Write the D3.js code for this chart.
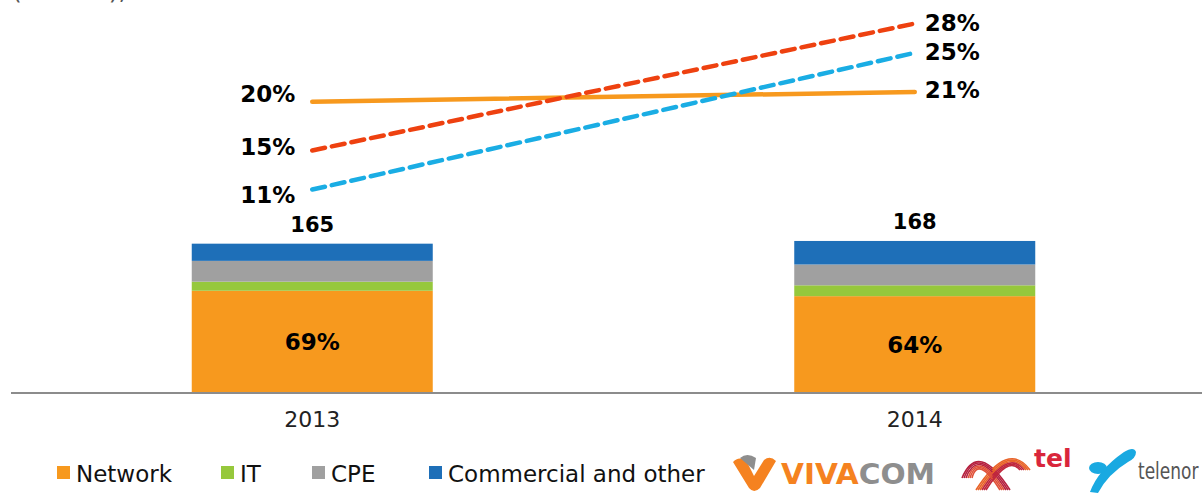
<!DOCTYPE html>
<html>
<head>
<meta charset="utf-8">
<style>
    body { margin: 0; background: #fff; }
    svg text { font-family: Verdana, "DejaVu Sans", sans-serif; }
    .axis path, .axis line { fill: none; stroke: #8c8c8c; stroke-width: 2px; }
</style>
</head>
<body>
<div id="containerChart"></div>
<script src="https://cdn.jsdelivr.net/npm/d3@7"></script>
<script>
    // data
    var years = ["2013", "2014"];
    var network = [113, 107];
    var it = [10, 12];
    var cpe = [23, 23];
    var commercial = [19, 26];
    var totals = [165, 168];
    var networkShare = ["69%", "64%"];

    var vivacomShare = [20, 21];
    var mtelShare = [15, 28];
    var telenorShare = [11, 25];

    var legendNames = ["Network", "IT", "CPE", "Commercial and other"];
    var colors = ["#F7991E", "#96C83C", "#A0A0A0", "#1E6FB8"];

    var svgWidth = 1202;
    var svgHeight = 493;

    var svg = d3.select("#containerChart")
        .append("svg")
        .attr("width", svgWidth)
        .attr("height", svgHeight);

    // title, mostly above the top edge (only the bottom of it shows)
    svg.append("text")
        .attr("x", 12).attr("y", -1)
        .style("font-size", "25px").style("fill", "#555")
        .text("(BGN m), ");

    // scales
    var xScale = d3.scaleBand()
        .domain(years)
        .range([11, 1216])
        .paddingInner(0.6)
        .paddingOuter(0.3);

    var yBar = d3.scaleLinear()
        .domain([0, 200])
        .range([393, 212]);

    var yLine = d3.scaleLinear()
        .domain([0, 30])
        .range([297, 4]);

    // stacked bars
    var rows = years.map(function (y, i) {
        return { year: y, network: network[i], it: it[i], cpe: cpe[i], commercial: commercial[i] };
    });
    var keys = ["network", "it", "cpe", "commercial"];
    var stacked = d3.stack().keys(keys)(rows);

    svg.selectAll("g.layer")
        .data(stacked)
        .enter().append("g")
        .attr("class", "layer")
        .attr("fill", function (d, i) { return colors[i]; })
        .selectAll("rect")
        .data(function (d) { return d; })
        .enter().append("rect")
        .attr("x", function (d) { return xScale(d.data.year); })
        .attr("y", function (d) { return yBar(d[1]); })
        .attr("height", function (d) { return yBar(d[0]) - yBar(d[1]); })
        .attr("width", xScale.bandwidth());

    // totals
    svg.selectAll("text.total")
        .data(years)
        .enter().append("text")
        .attr("class", "total")
        .attr("x", function (d) { return xScale(d) + xScale.bandwidth() / 2; })
        .attr("y", function (d, i) { return yBar(totals[i]) - 12; })
        .attr("text-anchor", "middle")
        .style("font-size", "21px").style("font-weight", "bold")
        .text(function (d, i) { return totals[i]; });

    // network share inside bars
    svg.selectAll("text.share")
        .data(years)
        .enter().append("text")
        .attr("class", "share")
        .attr("x", function (d) { return xScale(d) + xScale.bandwidth() / 2; })
        .attr("y", function (d, i) { return yBar(network[i] / 2) + 8; })
        .attr("text-anchor", "middle")
        .style("font-size", "23px").style("font-weight", "bold")
        .text(function (d, i) { return networkShare[i]; });

    // x axis
    var xAxis = d3.axisBottom(xScale).tickSize(0).tickPadding(14);
    var gx = svg.append("g")
        .attr("class", "axis")
        .attr("transform", "translate(0," + yBar(0) + ")")
        .call(xAxis);
    gx.select(".domain").attr("d", "M11,0H1202");
    gx.selectAll("text")
        .style("font-size", "22px")
        .style("fill", "#222")
        .attr("dy", "0.9em");

    // share lines
    var series = [
        { values: vivacomShare, color: "#F7991E", dash: null, nudge: [-8, -2] },
        { values: mtelShare, color: "#EE4110", dash: "13,7", nudge: [-4, -1] },
        { values: telenorShare, color: "#1AADE4", dash: "13,7", nudge: [5, -1] }
    ];
    var cx = function (y) { return xScale(y) + xScale.bandwidth() / 2; };

    var line = d3.line()
        .x(function (d) { return cx(d.year); })
        .y(function (d) { return yLine(d.v); });

    series.forEach(function (s) {
        var pts = years.map(function (y, i) { return { year: y, v: s.values[i] }; });
        svg.append("path")
            .datum(pts)
            .attr("d", line)
            .attr("fill", "none")
            .attr("stroke", s.color)
            .attr("stroke-width", 4.5)
            .attr("stroke-dasharray", s.dash)
            .attr("stroke-linecap", "round");

        svg.append("text")
            .attr("x", cx(years[0]) - 17)
            .attr("y", yLine(s.values[0]) + s.nudge[0])
            .attr("dy", "0.35em")
            .attr("text-anchor", "end")
            .style("font-size", "23px").style("font-weight", "bold")
            .text(s.values[0] + "%");

        svg.append("text")
            .attr("x", cx(years[1]) + 10)
            .attr("y", yLine(s.values[1]) + s.nudge[1])
            .attr("dy", "0.35em")
            .style("font-size", "23px").style("font-weight", "bold")
            .text(s.values[1] + "%");
    });

    // legend
    var legendX = [57, 221, 312, 429];
    var legend = svg.selectAll("g.legend")
        .data(legendNames)
        .enter().append("g")
        .attr("class", "legend")
        .attr("transform", function (d, i) { return "translate(" + legendX[i] + ",466)"; });
    legend.append("rect")
        .attr("width", 13).attr("height", 13)
        .attr("fill", function (d, i) { return colors[i]; });
    legend.append("text")
        .attr("x", 19).attr("y", 16)
        .style("font-size", "23px")
        .style("fill", "#111")
        .text(function (d) { return d; });

    // logos (rough drawings)
    var logos = svg.append("g");

    // VIVACOM
    logos.append("path")
        .attr("d", "M733,462 Q738,456 746,460 L754,476 L764,460 Q770,455 776,461 L760,488 Q754,494 749,488 Z")
        .attr("fill", "#F58220");
    logos.append("path")
        .attr("d", "M740,458 Q747,452 756,458 L754,470 Z")
        .attr("fill", "#8E8E8E");
    logos.append("text")
        .attr("x", 781).attr("y", 484)
        .attr("textLength", 154)
        .attr("lengthAdjust", "spacingAndGlyphs")
        .style("font-size", "28px").style("font-weight", "bold")
        .selectAll("tspan")
        .data([["VIVA", "#F58220"], ["COM", "#8E8E8E"]])
        .enter().append("tspan")
        .attr("fill", function (d) { return d[1]; })
        .text(function (d) { return d[0]; });

    // Mtel arches
    var arch = logos.append("g").attr("fill", "none").attr("stroke-width", 1.6);
    d3.range(6).forEach(function (k) {
        arch.append("path")
            .attr("d", "M" + (962 + k * 2) + ",478 Q978," + (440 + k * 3) + " " + (1010 - k * 2) + ",490")
            .attr("stroke", k < 3 ? "#B5213F" : "#E0523A");
        arch.append("path")
            .attr("d", "M" + (976 + k * 2) + ",490 Q1008," + (440 + k * 3) + " " + (1030 - k * 2) + ",470")
            .attr("stroke", k < 3 ? "#E8642A" : "#C0283E");
    });
    logos.append("text")
        .attr("x", 1034).attr("y", 467)
        .style("font-size", "25px").style("font-weight", "bold")
        .style("fill", "#D9263B")
        .text("tel");

    // Telenor
    logos.append("path")
        .attr("d", "M1090,492 Q1098,470 1124,452 Q1134,446 1136,452 Q1136,458 1128,462 Q1108,474 1098,493 Z")
        .attr("fill", "#19A9E1");
    logos.append("ellipse")
        .attr("cx", 1098).attr("cy", 468).attr("rx", 9).attr("ry", 6)
        .attr("fill", "#19A9E1");
    logos.append("text")
        .attr("transform", "translate(1138,479) scale(1,1.3)")
        .style("font-size", "17px")
        .style("fill", "#555")
        .text("telenor");
</script>
</body>
</html>
